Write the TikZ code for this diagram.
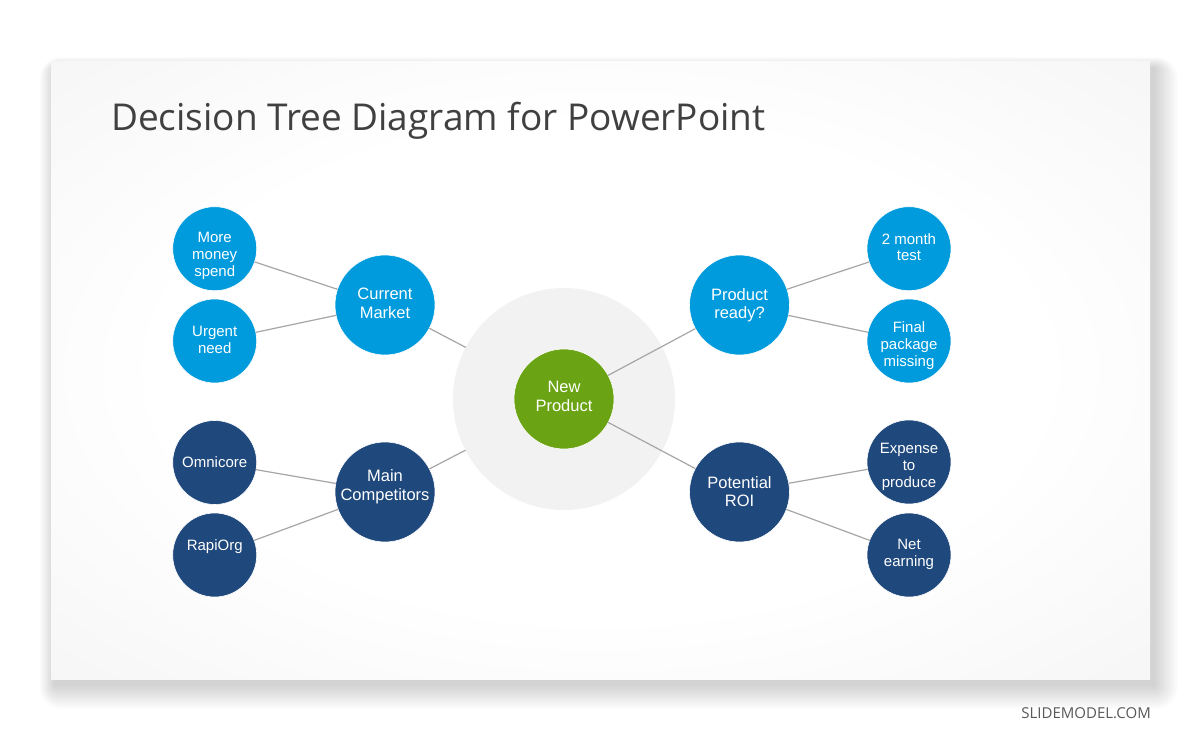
\documentclass[tikz,border=0pt]{standalone}
\usepackage{fontspec}
\setmainfont{Liberation Sans}
\newfontfamily\titlefont{Open Sans}
\newfontfamily\arialf{Liberation Sans}
\definecolor{cblue}{RGB}{0,155,220}
\definecolor{cnavy}{RGB}{31,72,124}
\definecolor{cgreen}{RGB}{106,163,19}
\definecolor{cring}{RGB}{242,242,242}
\definecolor{cline}{RGB}{166,166,166}
\definecolor{ctitle}{RGB}{64,64,64}
\definecolor{cmark}{RGB}{89,89,89}
\definecolor{bgedge}{RGB}{238,238,238}
\pgfdeclareradialshading{slidebg}{\pgfpoint{0bp}{0bp}}{color(0bp)=(white); color(20bp)=(white); color(50bp)=(bgedge)}
\newcommand\capstrut{\rule{0pt}{0.716em}}
\tikzset{
  bigc/.style={circle, minimum size=100pt, inner sep=0pt, outer sep=0pt, draw=white, line width=0.6pt},
  smallc/.style={circle, minimum size=84pt, inner sep=0pt, outer sep=0pt, draw=white, line width=0.6pt},
  txtb/.style={text=white, align=center, inner sep=0pt, font=\arialf\fontsize{16.5}{18.5}\selectfont},
  txts/.style={text=white, align=center, inner sep=0pt, font=\arialf\fontsize{15}{16.8}\selectfont},
  conn/.style={draw=cline, line width=1.2pt}
}
\begin{document}
\begin{tikzpicture}[x=1pt,y=-1pt]
\useasboundingbox (0,0) rectangle (1200,743);
\fill[white] (0,0) rectangle (1200,743);
% slide shadow
\foreach \i in {1,...,22}{
  \fill[black, opacity=0.006, rounded corners=\i pt] (51-\i*0.7+4, 62-\i*0.5+6) rectangle (1150+\i*1.1+4, 679+\i*1.1+6);
}
% slide
\shade[shading=slidebg] (51,62) rectangle (1150,679);
% title
\node[anchor=base west, inner sep=0pt, text=ctitle, font=\titlefont\fontsize{37}{44}\selectfont] (title) at (111,131) {Decision Tree Diagram for PowerPoint};
% watermark
\node[anchor=base east, inner sep=0pt, text=cmark, font=\titlefont\fontsize{15}{18}\selectfont] (mark) at (1151,718.5) {SLIDEMODEL.COM};
% circles
\node[circle, minimum size=222pt, inner sep=0pt, outer sep=0pt, fill=cring] (ring) at (564,399) {};
\node[bigc, fill=cgreen] (np) at (564,399) {};
\node[bigc, fill=cblue] (cm) at (385,305) {};
\node[bigc, fill=cnavy] (mc) at (385,492) {};
\node[bigc, fill=cblue] (pr) at (739.5,305) {};
\node[bigc, fill=cnavy] (roi) at (739.5,492) {};
\node[smallc, fill=cblue] (mm) at (214.7,248.7) {};
\node[smallc, fill=cblue] (un) at (214.7,341) {};
\node[smallc, fill=cnavy] (om) at (214.7,462.5) {};
\node[smallc, fill=cnavy] (ra) at (214.7,555) {};
\node[smallc, fill=cblue] (tm) at (909,248.7) {};
\node[smallc, fill=cblue] (fp) at (909,341) {};
\node[smallc, fill=cnavy] (ex) at (909,462) {};
\node[smallc, fill=cnavy] (ne) at (909,555) {};
% connectors
\draw[conn] (mm) -- (cm);
\draw[conn] (un) -- (cm);
\draw[conn] (om) -- (mc);
\draw[conn] (ra) -- (mc);
\draw[conn] (cm) -- (ring);
\draw[conn] (mc) -- (ring);
\draw[conn] (np) -- (pr);
\draw[conn] (np) -- (roi);
\draw[conn] (pr) -- (tm);
\draw[conn] (pr) -- (fp);
\draw[conn] (roi) -- (ex);
\draw[conn] (roi) -- (ne);
% texts
\node[txtb] (t-np) at ([yshift=3pt]np.center) {\capstrut New\\\smash{Product}};
\node[txtb] (t-cm) at ([yshift=2pt]cm.center) {\capstrut Current\\\smash{Market}};
\node[txtb] (t-mc) at ([yshift=7pt]mc.center) {\capstrut Main\\\smash{Competitors}};
\node[txtb] (t-pr) at ([yshift=1.7pt]pr.center) {\capstrut Product\\\smash{ready?}};
\node[txtb] (t-roi) at ([yshift=0.5pt]roi.center) {\capstrut Potential\\\smash{ROI}};
\node[txts] (t-mm) at ([yshift=-5.5pt]mm.center) {\capstrut More\\money\\\smash{spend}};
\node[txts] (t-un) at ([yshift=1.5pt]un.center) {\capstrut Urgent\\\smash{need}};
\node[txts] (t-om) at (om.center) {\capstrut\smash{Omnicore}};
\node[txts] (t-ra) at ([yshift=10pt]ra.center) {\capstrut\smash{RapiOrg}};
\node[txts] (t-tm) at ([yshift=1.7pt]tm.center) {\capstrut 2 month\\\smash{test}};
\node[txts] (t-fp) at ([yshift=-3pt]fp.center) {\capstrut Final\\package\\\smash{missing}};
\node[txts] (t-ex) at ([yshift=-3pt]ex.center) {\capstrut Expense\\to\\\smash{produce}};
\node[txts] (t-ne) at ([yshift=2.3pt]ne.center) {\capstrut Net\\\smash{earning}};
\end{tikzpicture}
\end{document}
